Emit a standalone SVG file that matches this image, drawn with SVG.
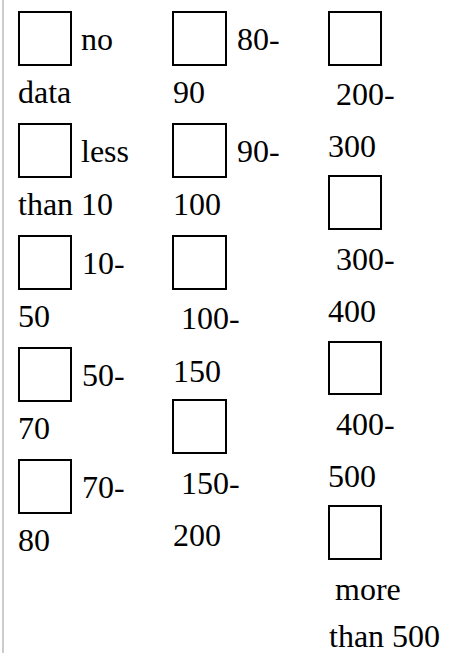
<svg xmlns="http://www.w3.org/2000/svg" width="456" height="653" viewBox="0 0 456 653">
<style>
.box{fill:#fff;stroke:#000;stroke-width:2}
.t{font-family:"Liberation Serif","Times New Roman",serif;font-size:32px;fill:#000}
</style>
<rect width="456" height="653" fill="#fff"/>
<rect x="2" y="0" width="2" height="653" fill="#cccccc"/>
<g id="no-data"><rect class="box" x="19" y="12" width="52" height="53"/><text class="t" x="81" y="50">no</text><text class="t" x="18" y="103">data</text></g>
<g id="lt10"><rect class="box" x="19" y="124" width="52" height="53"/><text class="t" x="81" y="162">less</text><text class="t" x="18" y="215">than 10</text></g>
<g id="r10-50"><rect class="box" x="19" y="236" width="52" height="53"/><text class="t" x="82" y="274">10-</text><text class="t" x="18" y="327">50</text></g>
<g id="r50-70"><rect class="box" x="19" y="348" width="52" height="53"/><text class="t" x="82" y="386">50-</text><text class="t" x="18" y="439">70</text></g>
<g id="r70-80"><rect class="box" x="19" y="460" width="52" height="53"/><text class="t" x="82" y="498">70-</text><text class="t" x="18" y="551">80</text></g>
<g id="r80-90"><rect class="box" x="173" y="12" width="53" height="53"/><text class="t" x="237" y="50">80-</text><text class="t" x="173" y="103">90</text></g>
<g id="r90-100"><rect class="box" x="173" y="124" width="53" height="53"/><text class="t" x="237" y="162">90-</text><text class="t" x="173" y="215">100</text></g>
<g id="r100-150"><rect class="box" x="173" y="236" width="53" height="53"/><text class="t" x="181" y="329">100-</text><text class="t" x="173" y="382">150</text></g>
<g id="r150-200"><rect class="box" x="173" y="400" width="53" height="53"/><text class="t" x="181" y="494">150-</text><text class="t" x="173" y="546">200</text></g>
<g id="r200-300"><rect class="box" x="329" y="12" width="52" height="53"/><text class="t" x="336" y="105">200-</text><text class="t" x="328" y="157">300</text></g>
<g id="r300-400"><rect class="box" x="329" y="176" width="52" height="53"/><text class="t" x="336" y="270">300-</text><text class="t" x="328" y="322">400</text></g>
<g id="r400-500"><rect class="box" x="329" y="342" width="52" height="52"/><text class="t" x="336" y="435">400-</text><text class="t" x="328" y="487">500</text></g>
<g id="gt500"><rect class="box" x="329" y="506" width="52" height="53"/><text class="t" x="335" y="600">more</text><text class="t" x="329" y="647">than 500</text></g>
<g id="connectors"/>
</svg>
